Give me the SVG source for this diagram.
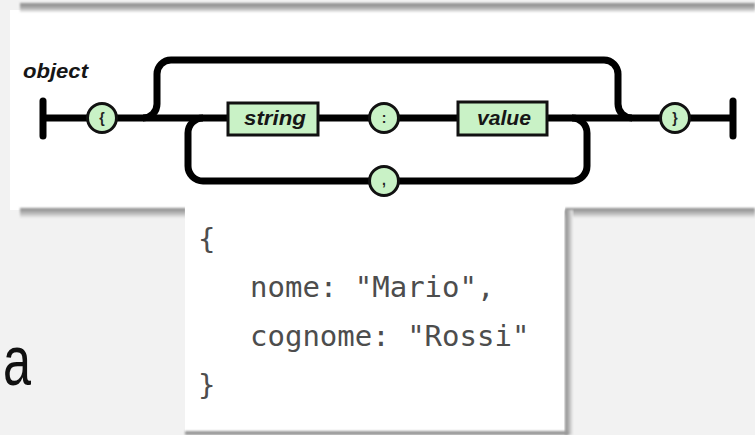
<svg xmlns="http://www.w3.org/2000/svg" width="755" height="435" viewBox="0 0 755 435">
<defs>
<style>
.ln{fill:none;stroke:#000;stroke-width:7;stroke-linejoin:round}
.term{stroke:#000;stroke-width:7;stroke-linecap:round}
.box{fill:#c9f2c6;stroke:#111;stroke-width:3}
.circ{fill:#c9f2c6;stroke:#111;stroke-width:3}
.lbl{font-family:"Liberation Sans",Arial,sans-serif;font-weight:bold;font-style:italic;font-size:20px;fill:#161616}
.sym{font-family:"Liberation Sans",Arial,sans-serif;font-weight:bold;font-size:14px;fill:#222;text-anchor:middle}
.code{font-family:"DejaVu Sans Mono","Liberation Mono",monospace;font-size:29px;fill:#4d4d4d}
</style>
<linearGradient id="shTop" x1="0" y1="0" x2="0" y2="1">
<stop offset="0" stop-color="#8c8c8c"/><stop offset="0.5" stop-color="#a8a8a8"/><stop offset="1" stop-color="#ececec"/>
</linearGradient>
<linearGradient id="shBot" x1="0" y1="0" x2="0" y2="1">
<stop offset="0" stop-color="#8a8a8a"/><stop offset="0.5" stop-color="#b5b5b5"/><stop offset="1" stop-color="#f0f0f0"/>
</linearGradient>
<linearGradient id="shRight" x1="0" y1="0" x2="1" y2="0">
<stop offset="0" stop-color="#8a8a8a"/><stop offset="0.5" stop-color="#b5b5b5"/><stop offset="1" stop-color="#f0f0f0"/>
</linearGradient>
<filter id="soft" x="-5%" y="-50%" width="110%" height="200%"><feGaussianBlur stdDeviation="0.8"/></filter>
</defs>

<!-- background -->
<rect x="0" y="0" width="755" height="435" fill="#f2f2f2"/>
<rect x="10" y="10" width="745" height="200" fill="#ffffff"/>
<rect x="20" y="3" width="735" height="9" fill="url(#shTop)" filter="url(#soft)"/>
<rect x="20" y="208" width="166" height="10" fill="url(#shBot)" filter="url(#soft)"/>
<rect x="565" y="208" width="190" height="10" fill="url(#shBot)" filter="url(#soft)"/>

<!-- code box -->
<g id="code-box">
<rect x="185" y="205" width="380" height="227" fill="#ffffff"/>
<rect x="565" y="210" width="8" height="225" fill="url(#shRight)" filter="url(#soft)"/>
<rect x="185" y="431" width="383" height="4" fill="#9a9a9a" filter="url(#soft)"/>
<text class="code" x="198" y="249">{</text>
<text class="code" x="250" y="297" xml:space="preserve">nome: "Mario",</text>
<text class="code" x="250" y="346" xml:space="preserve">cognome: "Rossi"</text>
<text class="code" x="198" y="395">}</text>
</g>

<!-- partial slide text -->
<text x="0" y="0" transform="translate(31,385) scale(0.72,1)" font-family="'Liberation Sans',Arial,sans-serif" font-size="70" fill="#111" text-anchor="end">a</text>

<!-- title -->
<text id="title" class="lbl" x="23" y="78" textLength="65" lengthAdjust="spacingAndGlyphs">object</text>

<!-- connectors -->
<g id="connectors">
<path class="ln" d="M43 118 H733"/>
<path class="ln" d="M143 118 A14 14 0 0 0 157 104 V74 A14 14 0 0 1 171 60 H604 A14 14 0 0 1 618 74 V104 A14 14 0 0 0 632 118"/>
<path class="ln" d="M572 118 A15 15 0 0 1 587 133 V166 A15 15 0 0 1 572 181 H203 A15 15 0 0 1 188 166 V133 A15 15 0 0 1 203 118"/>
<line class="term" x1="43" y1="101" x2="43" y2="136"/>
<line class="term" x1="733" y1="101" x2="733" y2="136"/>
</g>

<g id="open-brace">
<circle class="circ" cx="102" cy="118" r="14.5"/>
<text class="sym" x="102" y="123">{</text>
</g>
<g id="string">
<rect class="box" x="228" y="103" width="90" height="32"/>
<text class="lbl" x="244" y="125" textLength="62" lengthAdjust="spacingAndGlyphs">string</text>
</g>
<g id="colon">
<circle class="circ" cx="384" cy="118" r="14.5"/>
<text class="sym" x="384" y="123">:</text>
</g>
<g id="value">
<rect class="box" x="458" y="102" width="89" height="33"/>
<text class="lbl" x="477" y="125" textLength="54" lengthAdjust="spacingAndGlyphs">value</text>
</g>
<g id="comma">
<circle class="circ" cx="384" cy="181" r="14.5"/>
<text class="sym" x="384" y="185">,</text>
</g>
<g id="close-brace">
<circle class="circ" cx="675" cy="118" r="14.5"/>
<text class="sym" x="675" y="123">}</text>
</g>
</svg>
